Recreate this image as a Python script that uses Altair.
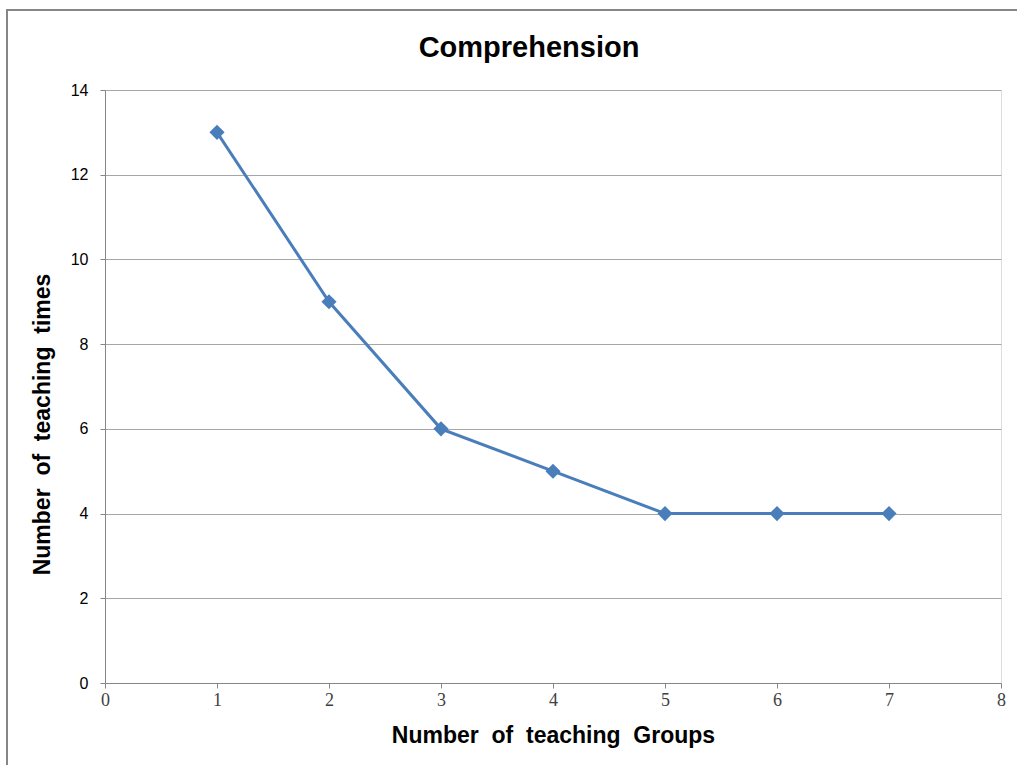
import altair as alt
import pandas as pd

# Number of teaching groups vs. number of teaching times
groups = [1, 2, 3, 4, 5, 6, 7]
times = [13, 9, 6, 5, 4, 4, 4]
chart_title = "Comprehension"

df = pd.DataFrame({"groups": groups, "times": times})

LINE_BLUE = "#4a7ebb"
GRID_GREY = "#a6a6a6"
AXIS_GREY = "#868686"

x_enc = alt.X(
    "groups:Q",
    scale=alt.Scale(domain=[0, 8], nice=False),
    axis=alt.Axis(
        values=[0, 1, 2, 3, 4, 5, 6, 7, 8],
        format="d",
        grid=False,
        labelFlush=False,
        domainColor=AXIS_GREY,
        tickColor=AXIS_GREY,
        tickSize=5,
        labelFont="Liberation Serif",
        labelFontSize=18,
        labelColor="#404040",
        labelPadding=3,
        title="Number\u00a0 of\u00a0 teaching\u00a0 Groups",
        titleFont="Liberation Sans",
        titleFontSize=23,
        titleFontWeight="bold",
        titleColor="#000000",
        titleBaseline="middle",
        titleY=52,
    ),
)
y_enc = alt.Y(
    "times:Q",
    scale=alt.Scale(domain=[0, 14], nice=False),
    axis=alt.Axis(
        values=[0, 2, 4, 6, 8, 10, 12, 14],
        format="d",
        gridColor=GRID_GREY,
        gridWidth=1,
        domainColor=AXIS_GREY,
        tickColor=AXIS_GREY,
        tickSize=5,
        labelFont="Liberation Sans",
        labelFontSize=16,
        labelColor="#000000",
        labelPadding=12,
        title="Number\u00a0 of\u00a0 teaching\u00a0 times",
        titleFont="Liberation Sans",
        titleFontSize=23,
        titleFontWeight="bold",
        titleColor="#000000",
        titleAngle=270,
        titleAlign="center",
        titleBaseline="middle",
        titleX=-63,
        titleY=334,
    ),
)

line = alt.Chart(df).mark_line(color=LINE_BLUE, strokeWidth=3).encode(x=x_enc, y=y_enc)
points = alt.Chart(df).mark_point(
    shape="diamond", filled=True, color=LINE_BLUE, size=230, opacity=1
).encode(x="groups:Q", y="times:Q")

# outer chart frame
frame = alt.Chart(df).mark_rect(
    fill="transparent", stroke=AXIS_GREY, strokeWidth=2
).encode(
    x=alt.value(-98), x2=alt.value(940),
    y=alt.value(-80), y2=alt.value(700),
)

# chart heading drawn as a text mark in the top padding
heading = alt.Chart(pd.DataFrame({"t": [chart_title]})).mark_text(
    font="Liberation Sans",
    fontSize=29,
    fontWeight="bold",
    color="#000000",
    align="center",
    baseline="alphabetic",
).encode(text="t:N", x=alt.value(424), y=alt.value(-33))

chart = alt.layer(frame, line, points, heading).properties(
    width=896,
    height=593,
    autosize="none",
    padding={"left": 105, "top": 90, "right": 16, "bottom": 82},
).configure_view(stroke=None).configure(background="white")

chart.save("out.html", embed_options={"renderer": "svg", "actions": False})
